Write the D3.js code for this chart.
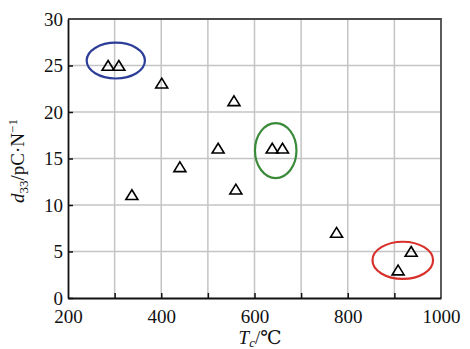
<!DOCTYPE html>
<html>
<head>
<meta charset="utf-8">
<script src="https://cdn.jsdelivr.net/npm/d3@7"></script>
<style>
  body { margin: 0; background: #fff; }
  text { font-family: "Liberation Serif", "DejaVu Serif", serif; }
</style>
</head>
<body>
<div id="chart"></div>
<script>
// data
var tc  = [286, 309, 401, 556, 522, 440, 337, 560, 638, 660, 776, 936, 908];
var d33 = [25, 25, 23.1, 21.2, 16.1, 14.1, 11.1, 11.7, 16.1, 16.1, 7.05, 5.0, 3.0];

// circled groups, extents in data units
var groupNames = ["blue", "green", "red"];
var groupX = [[240, 365], [601, 690], [853, 983]];
var groupY = [[23.6, 27.45], [12.9, 18.8], [2.05, 6.05]];
var groupColor = ["#2c3e98", "#3b8a3a", "#d8312c"];

var xTicks = [200, 400, 600, 800, 1000];
var yTicks = [0, 5, 10, 15, 20, 25, 30];
var xGrid = d3.range(300, 1000, 100);

// dimension and margin of graph
var margin = {top: 19, right: 29, bottom: 51, left: 68},
width = 470 - margin.left - margin.right,
height = 349 - margin.top - margin.bottom;

var svg = d3.select("#chart").append("svg")
    .attr("width", 470)
    .attr("height", 349);

var g = svg.append("g")
    .attr("transform", "translate(" + margin.left + "," + margin.top + ")");

var x = d3.scaleLinear().domain([200, 1000]).range([0, width]);
var y = d3.scaleLinear().domain([0, 30]).range([height, 0]);

// grid
g.append("g").selectAll("line")
.data(xGrid)
.enter().append("line")
    .attr("x1", function(d) {return x(d);})
    .attr("x2", function(d) {return x(d);})
    .attr("y1", 0)
    .attr("y2", height)
    .attr("stroke", "#c4c4c4")
    .attr("stroke-width", 1.5);

g.append("g").selectAll("line")
.data(yTicks.slice(1, -1))
.enter().append("line")
    .attr("x1", 0)
    .attr("x2", width)
    .attr("y1", function(d) {return y(d);})
    .attr("y2", function(d) {return y(d);})
    .attr("stroke", "#c4c4c4")
    .attr("stroke-width", 1.5);

// frame, top and right darker gray
g.append("path")
    .attr("d", "M0,0H" + width + "V" + height)
    .attr("fill", "none")
    .attr("stroke", "#4a4a4a")
    .attr("stroke-width", 1.8);

// axes with inner ticks
var xAxis = g.append("g")
    .attr("transform", "translate(0," + height + ")")
    .call(d3.axisBottom(x).tickValues(d3.range(200, 1001, 100)).tickSizeInner(-5).tickSizeOuter(0)
        .tickFormat(function(d) {return xTicks.indexOf(d) >= 0 ? d : "";}));

var yAxis = g.append("g")
    .call(d3.axisLeft(y).tickValues(yTicks).tickSizeInner(-5).tickSizeOuter(0));

[xAxis, yAxis].forEach(function(a) {
    a.attr("font-family", "Liberation Serif").attr("font-size", 19);
    a.select(".domain").attr("stroke", "#111").attr("stroke-width", 1.8);
    a.selectAll(".tick line").attr("stroke", "#111").attr("stroke-width", 1.5);
    a.selectAll(".tick text").attr("fill", "#111");
});
xAxis.selectAll(".tick text").attr("y", 12);
yAxis.selectAll(".tick text").attr("x", -5);
yAxis.selectAll(".tick line").filter(function(d) {return d === 30;}).remove();
xAxis.selectAll(".tick line").filter(function(d) {return d === 1000 || d === 200;}).remove();

// ellipses
g.append("g").selectAll("ellipse")
.data(groupNames)
.enter().append("ellipse")
    .attr("cx", function(d, i) {return (x(groupX[i][0]) + x(groupX[i][1])) / 2;})
    .attr("cy", function(d, i) {return (y(groupY[i][0]) + y(groupY[i][1])) / 2;})
    .attr("rx", function(d, i) {return (x(groupX[i][1]) - x(groupX[i][0])) / 2;})
    .attr("ry", function(d, i) {return (y(groupY[i][0]) - y(groupY[i][1])) / 2;})
    .attr("fill", "none")
    .attr("stroke", function(d, i) {return groupColor[i];})
    .attr("stroke-width", 2.2);

// open triangles
g.append("g").selectAll("path")
.data(tc)
.enter().append("path")
    .attr("d", "M0,-5L6,4.8L-6,4.8Z")
    .attr("transform", function(d, i) {return "translate(" + x(d) + "," + y(d33[i]) + ")";})
    .attr("fill", "none")
    .attr("stroke", "#000")
    .attr("stroke-width", 1.6)
    .attr("stroke-linejoin", "miter");

// axis titles
var xt = svg.append("text")
    .attr("x", 260)
    .attr("y", 344)
    .attr("text-anchor", "middle")
    .style("font-size", "19px")
    .attr("fill", "#111");
xt.append("tspan").style("font-style", "italic").text("T");
xt.append("tspan").style("font-style", "italic").style("font-size", "13px").attr("dy", 3).text("c");
xt.append("tspan").attr("dy", -3).text("/℃");

var yt = svg.append("text")
    .attr("transform", "translate(24," + 161 + ") rotate(-90)")
    .attr("text-anchor", "middle")
    .style("font-size", "19px")
    .attr("fill", "#111");
yt.append("tspan").style("font-style", "italic").text("d");
yt.append("tspan").style("font-size", "13px").attr("dy", 4).text("33");
yt.append("tspan").attr("dy", -4).text("/pC·N");
yt.append("tspan").style("font-size", "13px").attr("dy", -7).text("−1");
</script>
</body>
</html>
